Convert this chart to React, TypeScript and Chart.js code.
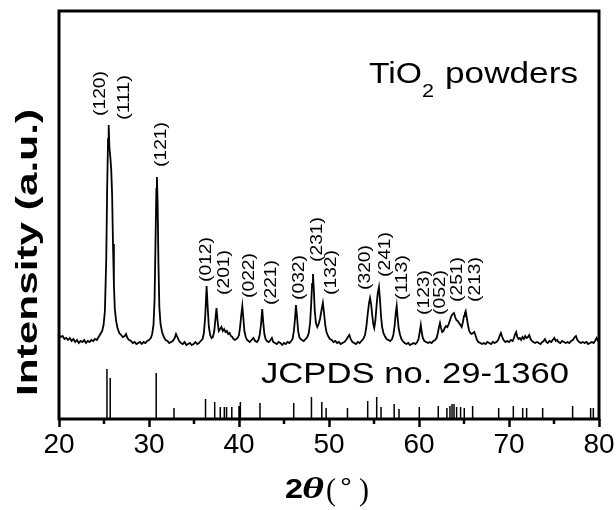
import React, { useEffect, useRef } from 'react';
import { Chart, registerables } from 'chart.js';

Chart.register(...registerables);

// ---- measured XRD trace (2θ in degrees, intensity in a.u.) ----
const twoTheta = [
  20.0, 20.2, 20.4, 20.6, 20.8, 21.0, 21.2, 21.4, 21.6, 21.8, 22.0, 22.2, 22.4, 22.6, 22.8, 23.0, 23.2, 23.4, 23.6, 23.8,
  24.0, 24.2, 24.4, 24.6, 24.8, 24.95, 25.1, 25.25, 25.35, 25.45, 25.52, 25.6, 25.7, 25.8, 25.9, 26.0, 26.1, 26.2, 26.35, 26.5,
  26.7, 26.9, 27.1, 27.3, 27.45, 27.6, 27.8, 28.0, 28.2, 28.4, 28.6, 28.8, 29.0, 29.2, 29.4, 29.6, 29.8, 30.0, 30.2, 30.35,
  30.5, 30.62, 30.72, 30.82, 30.88, 30.96, 31.05, 31.15, 31.28, 31.45, 31.65, 31.85, 32.05, 32.25, 32.45, 32.65, 32.85, 33.0, 33.15, 33.35,
  33.55, 33.75, 33.95, 34.15, 34.35, 34.55, 34.75, 34.95, 35.15, 35.35, 35.55, 35.75, 35.95, 36.1, 36.25, 36.4, 36.52, 36.65, 36.8, 36.95,
  37.1, 37.25, 37.38, 37.5, 37.62, 37.75, 37.9, 38.05, 38.2, 38.35, 38.5, 38.65, 38.8, 38.95, 39.1, 39.25, 39.4, 39.55, 39.7, 39.85,
  40.0, 40.12, 40.25, 40.37, 40.48, 40.6, 40.75, 40.9, 41.05, 41.2, 41.4, 41.6, 41.8, 42.0, 42.15, 42.3, 42.45, 42.58, 42.7, 42.82,
  42.95, 43.1, 43.3, 43.5, 43.65, 43.8, 44.0, 44.2, 44.4, 44.6, 44.8, 45.0, 45.2, 45.4, 45.6, 45.8, 45.95, 46.1, 46.22, 46.33,
  46.45, 46.57, 46.7, 46.85, 47.0, 47.2, 47.4, 47.6, 47.75, 47.9, 48.02, 48.12, 48.22, 48.32, 48.42, 48.55, 48.7, 48.85, 49.0, 49.15,
  49.32, 49.45, 49.58, 49.72, 49.9, 50.1, 50.3, 50.5, 50.7, 50.9, 51.1, 51.3, 51.5, 51.7, 51.9, 52.1, 52.26, 52.4, 52.6, 52.8,
  53.0, 53.2, 53.4, 53.6, 53.8, 54.0, 54.15, 54.3, 54.45, 54.56, 54.68, 54.8, 54.92, 55.03, 55.15, 55.3, 55.42, 55.55, 55.66, 55.78,
  55.9, 56.05, 56.2, 56.4, 56.6, 56.8, 57.0, 57.15, 57.3, 57.42, 57.52, 57.62, 57.75, 57.9, 58.05, 58.2, 58.4, 58.6, 58.8, 59.0,
  59.2, 59.4, 59.6, 59.8, 59.95, 60.08, 60.2, 60.3, 60.42, 60.6, 60.8, 61.0, 61.2, 61.4, 61.6, 61.8, 61.95, 62.1, 62.22, 62.33,
  62.45, 62.58, 62.72, 62.86, 63.0, 63.15, 63.3, 63.45, 63.6, 63.75, 63.89, 64.02, 64.15, 64.3, 64.45, 64.6, 64.74, 64.88, 65.0, 65.1,
  65.19, 65.3, 65.42, 65.55, 65.7, 65.85, 66.0, 66.15, 66.3, 66.45, 66.6, 66.8, 67.0, 67.2, 67.4, 67.6, 67.8, 68.0, 68.2, 68.4,
  68.6, 68.8, 68.95, 69.1, 69.25, 69.4, 69.6, 69.8, 70.0, 70.2, 70.4, 70.55, 70.68, 70.8, 70.92, 71.05, 71.2, 71.35, 71.5, 71.65,
  71.8, 71.95, 72.1, 72.25, 72.4, 72.55, 72.7, 72.9, 73.1, 73.3, 73.5, 73.7, 73.85, 74.0, 74.15, 74.3, 74.5, 74.7, 74.85, 75.03,
  75.2, 75.35, 75.5, 75.7, 75.9, 76.1, 76.3, 76.5, 76.7, 76.9, 77.1, 77.3, 77.44, 77.6, 77.8, 78.0, 78.2, 78.4, 78.6, 78.8,
  79.0, 79.2, 79.4, 79.55, 79.74, 79.9, 80.0,
];
const intensity = [
  84, 82, 83, 80, 81, 79, 81, 78, 80, 77, 79, 76, 78, 77, 79, 76, 78, 77, 79, 78,
  80, 79, 82, 85, 88, 94, 108, 160, 230, 280, 294, 272, 262, 250, 225, 175, 135, 110, 98, 91,
  86, 84, 82, 83, 85, 81, 79, 78, 76, 77, 75, 76, 77, 75, 77, 76, 78, 79, 81, 85,
  94, 120, 175, 230, 242, 215, 155, 112, 95, 87, 82, 79, 78, 76, 77, 78, 81, 85, 82, 78,
  76, 75, 77, 74, 75, 76, 74, 75, 77, 75, 76, 78, 80, 86, 103, 133, 112, 92, 84, 81,
  82, 88, 100, 111, 98, 88, 90, 92, 88, 90, 87, 88, 85, 86, 83, 82, 80, 79, 80, 81,
  84, 92, 104, 113, 101, 88, 82, 79, 78, 77, 79, 81, 78, 77, 79, 84, 95, 110, 96, 85,
  80, 78, 77, 79, 81, 77, 76, 75, 77, 76, 74, 76, 75, 77, 76, 78, 80, 88, 100, 114,
  102, 88, 82, 80, 79, 78, 80, 82, 86, 96, 115, 135, 145, 128, 108, 96, 92, 95, 100, 108,
  116, 106, 94, 87, 83, 80, 79, 77, 78, 76, 77, 75, 76, 77, 79, 82, 84, 80, 77, 76,
  75, 77, 76, 78, 80, 84, 92, 105, 116, 121, 115, 104, 95, 91, 98, 115, 126, 132, 120, 103,
  92, 86, 83, 80, 79, 78, 80, 84, 94, 106, 113, 102, 90, 84, 80, 78, 76, 75, 76, 74,
  75, 76, 75, 77, 80, 87, 94, 87, 81, 78, 77, 76, 77, 76, 78, 79, 81, 86, 92, 96,
  91, 87, 88, 91, 93, 92, 95, 99, 103, 105, 106, 102, 99, 98, 96, 94, 92, 97, 103, 106,
  108, 102, 95, 89, 86, 85, 86, 87, 83, 79, 77, 76, 75, 76, 75, 77, 76, 75, 77, 76,
  77, 79, 83, 86, 82, 79, 77, 78, 77, 79, 78, 81, 85, 87, 82, 80, 81, 79, 82, 80,
  83, 81, 82, 84, 80, 78, 77, 76, 77, 76, 75, 77, 78, 80, 77, 76, 78, 77, 79, 81,
  78, 79, 77, 76, 78, 77, 76, 77, 76, 78, 79, 82, 83, 79, 77, 76, 77, 76, 77, 75,
  76, 77, 76, 78, 81, 78, 77,
];

// ---- JCPDS no. 29-1360 reference lines ----
const stickTheta = [
  25.33, 25.69, 30.8, 32.78, 36.28, 37.3, 37.92, 38.37, 38.62, 39.2, 40.0, 40.15, 42.33, 46.08, 48.05, 49.2, 49.68,
  52.05, 54.3, 55.3, 55.78, 57.24, 57.78, 60.03, 62.14, 63.1, 63.44, 63.67, 63.89, 64.18, 64.62, 65.03, 65.96,
  68.85, 70.48, 71.52, 71.96, 73.74, 77.07, 79.07, 79.37,
];
const stickHeight = [
  50, 41, 46, 11, 20, 17, 12, 12, 12, 12, 13, 17, 16, 16, 22, 17, 11,
  11, 18, 22, 12, 15, 10, 12, 13, 11, 13, 15, 15, 12, 12, 11, 13,
  11, 13, 11, 11, 11, 13, 11, 11,
];

// ---- Miller-index labels (anchor: 2θ, intensity at start of text) ----
const hklLabels = ['(120)', '(111)', '(121)', '(012)', '(201)', '(022)', '(221)', '(032)', '(231)', '(132)', '(320)', '(241)', '(113)', '(123)', '(052)', '(251)', '(213)'];
const labelTheta = [25.06, 27.83, 31.94, 36.89, 38.89, 41.67, 44.11, 47.22, 49.22, 50.78, 54.56, 56.78, 58.67, 61.11, 62.89, 64.78, 66.78];
const labelIntensity = [303, 299, 252, 137, 124, 121, 114, 119, 157, 124, 129, 142, 119, 104, 104, 117, 117];

const xMajorTicks = [20, 30, 40, 50, 60, 70, 80];
const xMinorTicks = [25, 35, 45, 55, 65, 75];
const sampleText = ['TiO', '2', 'powders'];
const referenceText = 'JCPDS no. 29-1360';
const yTitle = 'Intensity (a.u.)';

const SANS = 'Arial, "Liberation Sans", sans-serif';
const SERIF = '"Times New Roman", "Liberation Serif", serif';

function fitText(ctx: CanvasRenderingContext2D, text: string, x: number, y: number, font: string, width: number, rot = 0) {
  ctx.save();
  ctx.translate(x, y);
  if (rot) ctx.rotate(rot);
  ctx.font = font;
  ctx.textAlign = 'left';
  ctx.textBaseline = 'alphabetic';
  const w = ctx.measureText(text).width || 1;
  ctx.scale(width / w, 1);
  ctx.fillText(text, 0, 0);
  ctx.restore();
}

const decorPlugin = {
  id: 'decor',
  afterDraw(chart: any) {
    const ctx: CanvasRenderingContext2D = chart.ctx;
    const xs = chart.scales.x;
    const ys = chart.scales.y;
    const a = chart.chartArea;
    ctx.save();
    ctx.fillStyle = '#000';
    ctx.strokeStyle = '#000';
    // minor ticks
    ctx.lineWidth = 2.5;
    xMinorTicks.forEach((v) => {
      const px = xs.getPixelForValue(v);
      ctx.beginPath();
      ctx.moveTo(px, a.bottom);
      ctx.lineTo(px, a.bottom + 5);
      ctx.stroke();
    });
    // frame
    ctx.lineWidth = 3;
    ctx.strokeRect(a.left, a.top, a.right - a.left, a.bottom - a.top);

    // peak labels
    hklLabels.forEach((t, i) => {
      const px = xs.getPixelForValue(labelTheta[i]);
      const py = ys.getPixelForValue(labelIntensity[i]);
      fitText(ctx, t, px, py, `17px ${SANS}`, 45, -Math.PI / 2);
    });

    // sample text
    fitText(ctx, sampleText[0], 369, 83, `29px ${SANS}`, 53);
    fitText(ctx, sampleText[1], 422, 97, `19px ${SANS}`, 12);
    fitText(ctx, sampleText[2], 445, 83, `29px ${SANS}`, 133);
    fitText(ctx, referenceText, 261, 383, `29px ${SANS}`, 308);

    // y title
    fitText(ctx, yTitle, 37, 396, `bold 29px ${SANS}`, 287, -Math.PI / 2);

    // x title: 2θ(°)
    fitText(ctx, '2', 285, 498, `bold 28px ${SANS}`, 18);
    fitText(ctx, 'θ', 302, 498, `italic bold 30px ${SERIF}`, 22);
    fitText(ctx, '(', 326, 500, `32px ${SERIF}`, 10);
    fitText(ctx, '°', 340, 497, `28px ${SANS}`, 12);
    fitText(ctx, ')', 359, 500, `32px ${SERIF}`, 10);
    ctx.restore();
  },
};

export default function App() {
  const ref = useRef<HTMLCanvasElement | null>(null);
  useEffect(() => {
    if (!ref.current) return;
    const trace = twoTheta.map((t, i) => ({ x: t, y: intensity[i] }));
    const sticks: any[] = [];
    stickTheta.forEach((t, i) => {
      sticks.push({ x: t, y: 0 }, { x: t, y: stickHeight[i] }, { x: t, y: null });
    });
    const chart = new Chart(ref.current, {
      type: 'line',
      data: {
        datasets: [
          { data: trace, borderColor: '#000', borderWidth: 1.8, pointRadius: 0, tension: 0, fill: false },
          { data: sticks, borderColor: '#000', borderWidth: 1.5, pointRadius: 0, tension: 0, fill: false, spanGaps: false },
        ],
      },
      options: {
        animation: false,
        responsive: false,
        devicePixelRatio: 1,
        layout: { padding: { left: 0, top: 11, right: 17, bottom: 0 } },
        plugins: { legend: { display: false }, tooltip: { enabled: false } },
        scales: {
          x: {
            type: 'linear',
            min: 20,
            max: 80,
            afterBuildTicks: (s: any) => {
              s.ticks = xMajorTicks.map((v) => ({ value: v }));
            },
            ticks: {
              font: { family: SANS, size: 28 },
              color: '#000',
              padding: 1,
              maxRotation: 0,
              autoSkip: false,
            },
            grid: { drawOnChartArea: false, drawTicks: true, tickLength: 8, tickWidth: 2.5, tickColor: '#000', color: '#000' },
            border: { display: false },
            afterFit: (s: any) => {
              s.height = 91;
              s.paddingLeft = 0;
              s.paddingRight = 0;
            },
          },
          y: {
            type: 'linear',
            min: 0,
            max: 408,
            ticks: { display: false },
            grid: { display: false },
            border: { display: false },
            afterFit: (s: any) => {
              s.width = 59;
            },
          },
        },
      },
      plugins: [decorPlugin],
    } as any);
    return () => chart.destroy();
  }, []);
  return (
    <div style={{ position: 'absolute', left: 0, top: 0, width: 616, height: 510, background: '#fff' }}>
      <canvas ref={ref} width={616} height={510} style={{ width: 616, height: 510 }} />
    </div>
  );
}
